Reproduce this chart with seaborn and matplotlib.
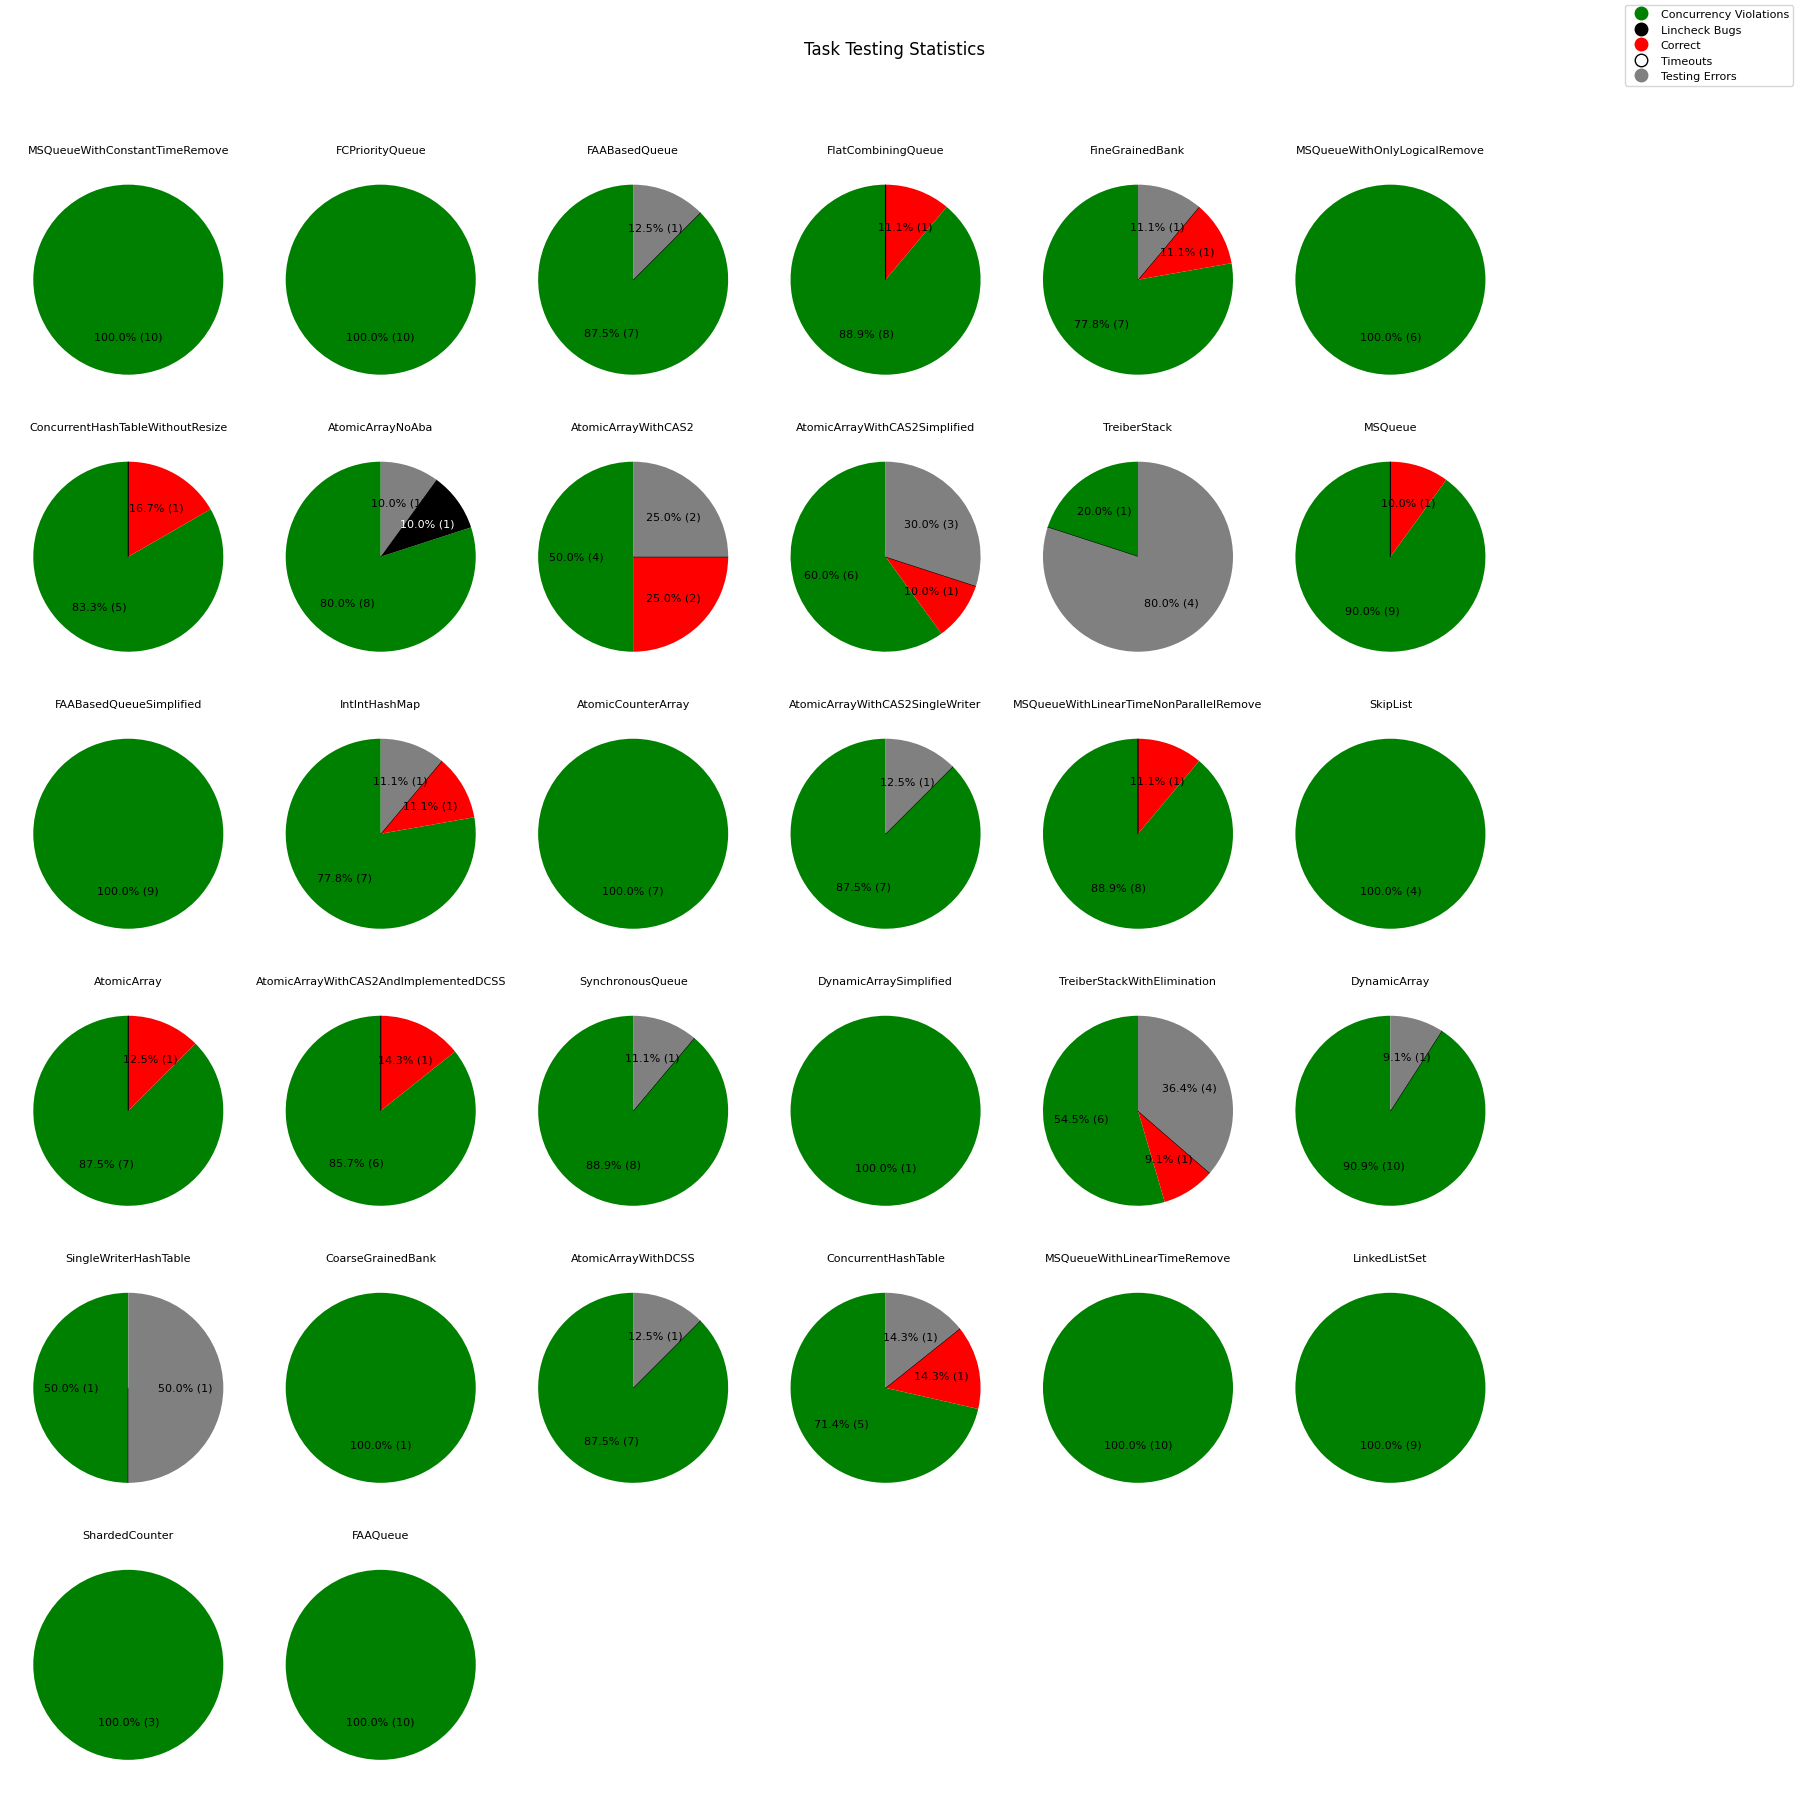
import matplotlib
matplotlib.use("Agg")
import matplotlib.pyplot as plt
from matplotlib.lines import Line2D
import seaborn as sns

sns.set_style("white")
plt.rcParams['font.family'] = ['DejaVu Sans']
plt.rcParams['text.color'] = 'black'

# outcome categories, in the order they are drawn
categories = ['Concurrency Violations', 'Lincheck Bugs', 'Correct', 'Timeouts', 'Testing Errors']
cat_colors = ['green', 'black', 'red', 'white', 'gray']

tasks = ['MSQueueWithConstantTimeRemove', 'FCPriorityQueue', 'FAABasedQueue', 'FlatCombiningQueue',
         'FineGrainedBank', 'MSQueueWithOnlyLogicalRemove',
         'ConcurrentHashTableWithoutResize', 'AtomicArrayNoAba', 'AtomicArrayWithCAS2',
         'AtomicArrayWithCAS2Simplified', 'TreiberStack', 'MSQueue',
         'FAABasedQueueSimplified', 'IntIntHashMap', 'AtomicCounterArray',
         'AtomicArrayWithCAS2SingleWriter', 'MSQueueWithLinearTimeNonParallelRemove', 'SkipList',
         'AtomicArray', 'AtomicArrayWithCAS2AndImplementedDCSS', 'SynchronousQueue',
         'DynamicArraySimplified', 'TreiberStackWithElimination', 'DynamicArray',
         'SingleWriterHashTable', 'CoarseGrainedBank', 'AtomicArrayWithDCSS',
         'ConcurrentHashTable', 'MSQueueWithLinearTimeRemove', 'LinkedListSet',
         'ShardedCounter', 'FAAQueue']

concurrency_violations = [10, 10, 7, 8, 7, 6,
                          5, 8, 4, 6, 1, 9,
                          9, 7, 7, 7, 8, 4,
                          7, 6, 8, 1, 6, 10,
                          1, 1, 7, 5, 10, 9,
                          3, 10]
lincheck_bugs = [0, 0, 0, 0, 0, 0,
                 0, 1, 0, 0, 0, 0,
                 0, 0, 0, 0, 0, 0,
                 0, 0, 0, 0, 0, 0,
                 0, 0, 0, 0, 0, 0,
                 0, 0]
correct = [0, 0, 0, 1, 1, 0,
           1, 0, 2, 1, 0, 1,
           0, 1, 0, 0, 1, 0,
           1, 1, 0, 0, 1, 0,
           0, 0, 0, 1, 0, 0,
           0, 0]
timeouts = [0] * 32
testing_errors = [0, 0, 1, 0, 1, 0,
                  0, 1, 2, 3, 4, 0,
                  0, 1, 0, 1, 0, 0,
                  0, 0, 1, 0, 4, 1,
                  1, 0, 1, 1, 0, 0,
                  0, 0]

nrows, ncols = 6, 6
fig, axes = plt.subplots(nrows, ncols, figsize=(17.99, 17.99), dpi=100,
                         gridspec_kw=dict(left=0.0053, right=0.8389, top=0.91, bottom=0.008,
                                          wspace=0.0627, hspace=0.1663))
axes = axes.flatten()

for i, task in enumerate(tasks):
    ax = axes[i]
    vals = [concurrency_violations[i], lincheck_bugs[i], correct[i], timeouts[i], testing_errors[i]]
    total = sum(vals)
    nonzero = sum(1 for v in vals if v > 0)

    def fmt(p, total=total):
        if p <= 0:
            return ''
        return '{:.1f}% ({})'.format(p, int(round(p * total / 100)))

    wedges, texts, autotexts = ax.pie(vals, colors=cat_colors, startangle=90, autopct=fmt,
                                      textprops=dict(fontsize=8))
    for w, c in zip(wedges, cat_colors):
        if c == 'white' and nonzero > 1:
            w.set_edgecolor('black')
            w.set_linewidth(0.8)
        else:
            w.set_linewidth(0)
    for t, c in zip(autotexts, cat_colors):
        if c == 'black':
            t.set_color('white')
    ax.set_title(task, fontsize=8)

for ax in axes[len(tasks):]:
    ax.axis('off')

handles = []
for cat, c in zip(categories, cat_colors):
    edge = 'black' if c == 'white' else c
    handles.append(Line2D([0], [0], marker='o', color='w', markerfacecolor=c,
                          markeredgecolor=edge, markersize=9, label=cat))
fig.legend(handles=handles, loc='upper right', fontsize=8)
fig.suptitle('Task Testing Statistics', x=0.497, y=0.977)

fig.savefig('out.png', dpi=100)
